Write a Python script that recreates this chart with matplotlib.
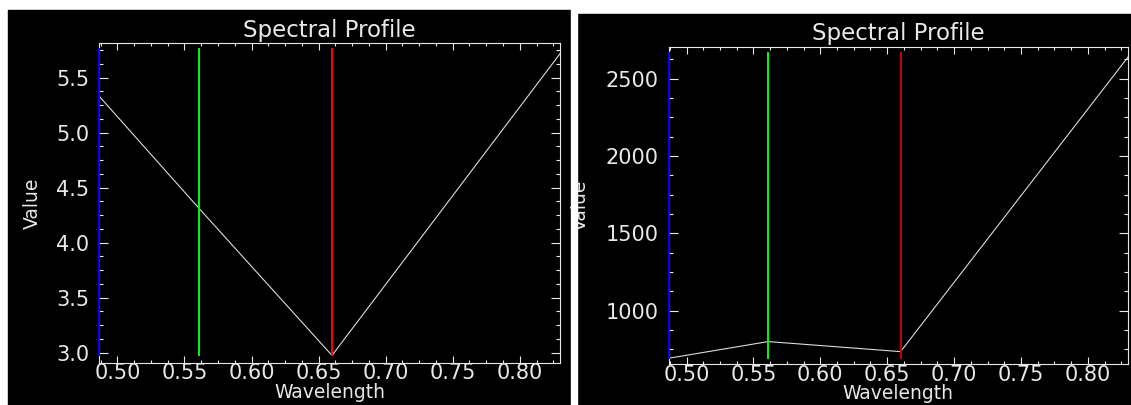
import matplotlib
matplotlib.use('Agg')
import matplotlib.pyplot as plt
from matplotlib.patches import Rectangle
from matplotlib.ticker import MultipleLocator

# band centres (blue, green, red, nir)
wavelength = [0.4865, 0.561, 0.660, 0.8325]
left_values = [5.33, 4.31, 2.975, 5.758]
right_values = [692, 800, 735, 2668]
band_colors = ['#0000ff', '#00ff00', '#ff0000']

W, H = 1131.0, 405.0


def box(x0, y0, x1, y1):
    # pixel box -> figure fraction [left, bottom, width, height]
    return [x0 / W, 1 - y1 / H, (x1 - x0) / W, (y1 - y0) / H]


def draw_panel(ax, values, ylim, ymajor, label_x, red):
    ax.set_facecolor('black')
    ax.plot(wavelength, values, color='#dcdcdc', lw=0.8, zorder=2)
    lo, hi = min(values), max(values)
    colors = band_colors[:2] + [red]
    for w, c in zip(wavelength[:3], colors):
        ax.plot([w, w], [lo, hi], color=c, lw=1.4, clip_on=False, zorder=4)
    ax.set_xlim(0.4865, 0.830)
    ax.set_ylim(*ylim)
    ax.xaxis.set_major_locator(MultipleLocator(0.05))
    ax.xaxis.set_minor_locator(MultipleLocator(0.0125))
    ax.yaxis.set_major_locator(MultipleLocator(ymajor))
    ax.yaxis.set_minor_locator(MultipleLocator(ymajor / 4.0))
    for s in ax.spines.values():
        s.set_color('#e8e8e8')
        s.set_linewidth(0.8)
    ax.tick_params(which='both', direction='in', top=True, right=True,
                   colors='#e8e8e8', width=0.8, labelsize=15)
    ax.tick_params(axis='x', which='major', length=5, pad=0.5)
    ax.tick_params(axis='x', which='minor', length=2.5)
    ax.tick_params(axis='y', which='major', length=6.5, pad=7)
    ax.tick_params(axis='y', which='minor', length=3.2)
    ax.set_title('Spectral Profile', color='#e8e8e8', fontsize=16.5, pad=4.5)
    ax.set_xlabel('Wavelength', color='#e8e8e8', fontsize=13.5)
    ax.set_ylabel('Value', color='#e8e8e8', fontsize=13.5)
    ax.xaxis.set_label_coords(0.5, -0.064)
    ax.yaxis.set_label_coords(label_x, 0.5)


fig = plt.figure(figsize=(W / 100, H / 100), dpi=100, facecolor='white')

# black window backgrounds
fig.patches.append(Rectangle((8 / W, 0), (571 - 8) / W, 1 - 10 / H,
                             transform=fig.transFigure, color='black', zorder=-5))
fig.patches.append(Rectangle((577 / W, 0), (W - 577) / W, 1 - 14 / H,
                             transform=fig.transFigure, color='black', zorder=-5))

ax1 = fig.add_axes(box(99.3, 43, 560, 362.7))
draw_panel(ax1, left_values, (2.909, 5.815), 0.5, -0.124, '#ff0000')

ax2 = fig.add_axes(box(668.5, 46.7, 1128, 364))
draw_panel(ax2, right_values, (655, 2707), 500, -0.171, '#d00000')

# gap between the two windows, cuts off the second "Value" label
fig.patches.append(Rectangle((571 / W, 0), 6 / W, 1,
                             transform=fig.transFigure, color='white', zorder=5))

fig.savefig('out.png', dpi=100, facecolor='white')
